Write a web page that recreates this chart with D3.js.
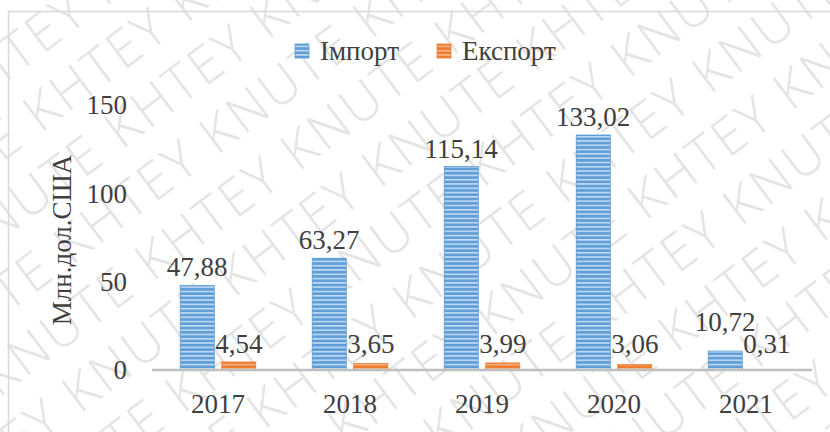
<!DOCTYPE html>
<html><head><meta charset="utf-8">
<script src="https://cdn.jsdelivr.net/npm/d3@7"></script>
<style>html,body{margin:0;padding:0;background:#fff;}svg{display:block;}
svg text{font-family:"Liberation Serif","Times New Roman","DejaVu Serif",serif;}
svg text.wm{font-family:"Open Sans","Liberation Sans","DejaVu Sans",sans-serif;font-weight:300;}</style>
</head><body>
<script>
const years = ["2017","2018","2019","2020","2021"];
const importVals = [47.88, 63.27, 115.14, 133.02, 10.72];
const exportVals = [4.54, 3.65, 3.99, 3.06, 0.31];
const seriesNames = ["Імпорт","Експорт"];
const yTicks = [0, 50, 100, 150];
const yTitle = "Млн.дол.США";
const watermarkWords = ["KHTEY", "KNUTE"];

const W = 830, H = 432;
const textColor = "#404040";
const svg = d3.select("body").append("svg").attr("width", W).attr("height", H);
const defs = svg.append("defs");

function stripe(id, base, light) {
  const p = defs.append("pattern").attr("id", id).attr("patternUnits","userSpaceOnUse")
    .attr("width", 8).attr("height", 4.3);
  p.append("rect").attr("width", 8).attr("height", 4.3).attr("fill", base);
  p.append("rect").attr("y", 2.6).attr("width", 8).attr("height", 1.5).attr("fill", light);
}
stripe("pBlue", "#5f9ed8", "#c9def3");
stripe("pOrange", "#ed7d31", "#f6b68c");
const fills = ["url(#pBlue)", "url(#pOrange)"];
const strokes = ["#5b9bd5", "#ed7d31"];

// watermark
const wm = svg.append("g").attr("transform", "rotate(-37 415 216)");
const line = d3.range(10).map(() => watermarkWords.join(" ")).join(" ");
for (let i = -8; i <= 8; i++) {
  wm.append("text").attr("class", "wm")
    .attr("x", -640 + ((i % 3) + 3) % 3 * 55).attr("y", 235 + i * 62)
    .attr("font-size", 52).attr("letter-spacing", 3).attr("fill", "#e4e4e4").text(line);
}

// frame
svg.append("rect").attr("x", 8.5).attr("y", 11.5).attr("width", 900).attr("height", 600)
  .attr("fill", "none").attr("stroke", "#d9d9d9").attr("stroke-width", 1.5);

const y = d3.scaleLinear().domain([0, 150]).range([370, 105]);
const x0 = d3.scaleBand().domain(years).range([152, 812]);
const x1 = d3.scaleBand().domain(seriesNames).range([0, x0.bandwidth()])
  .paddingInner(0.18).paddingOuter(0.68);

// y tick labels
svg.append("g").selectAll("text").data(yTicks).join("text")
  .attr("x", 127).attr("y", d => y(d)).attr("dy", "0.35em").attr("text-anchor", "end")
  .attr("font-size", 27).attr("fill", textColor).text(d => d);

// y title
svg.append("text").attr("transform", "translate(71,240) rotate(-90)")
  .attr("text-anchor", "middle").attr("font-size", 27)
  .attr("fill", textColor).text(yTitle);

// bars
const series = [importVals, exportVals];
series.forEach((vals, s) => {
  svg.append("g").selectAll("rect").data(vals).join("rect")
    .attr("x", (d, i) => x0(years[i]) + x1(seriesNames[s]))
    .attr("y", d => y(d)).attr("width", x1.bandwidth())
    .attr("height", d => y(0) - y(d))
    .attr("fill", fills[s]).attr("stroke", strokes[s]).attr("stroke-width", 0.8);
});

// axis line
svg.append("line").attr("x1", 152).attr("x2", 812).attr("y1", y(0)).attr("y2", y(0))
  .attr("stroke", "#bfbfbf").attr("stroke-width", 2.5);

// x labels
svg.append("g").selectAll("text").data(years).join("text")
  .attr("x", d => x0(d) + x0.bandwidth() / 2).attr("y", 413).attr("text-anchor", "middle")
  .attr("font-size", 27).attr("fill", textColor).text(d => d);

// data labels
const fmt = v => v.toFixed(2).replace(".", ",");
const expBase = exportVals.map(v => Math.min(y(v), y(0) - 8) - 9);
const impBase = importVals.map((v, i) => {
  let b = Math.min(y(v), y(0) - 8) - 9;
  if (b > expBase[i] - 22) b = expBase[i] - 22;
  return b;
});
[[importVals, impBase], [exportVals, expBase]].forEach(([vals, base], s) => {
  svg.append("g").selectAll("text").data(vals).join("text")
    .attr("x", (d, i) => x0(years[i]) + x1(seriesNames[s]) + x1.bandwidth() / 2)
    .attr("y", (d, i) => base[i]).attr("text-anchor", "middle")
    .attr("font-size", 27).attr("fill", textColor).text(fmt);
});

// legend
const legX = [295, 437];
seriesNames.forEach((n, s) => {
  svg.append("rect").attr("x", legX[s]).attr("y", 44).attr("width", 14).attr("height", 14)
    .attr("fill", fills[s]).attr("stroke", strokes[s]).attr("stroke-width", 0.8);
  svg.append("text").attr("x", legX[s] + 25).attr("y", 60)
    .attr("font-size", 27).attr("fill", textColor).text(n);
});
</script>
</body></html>
